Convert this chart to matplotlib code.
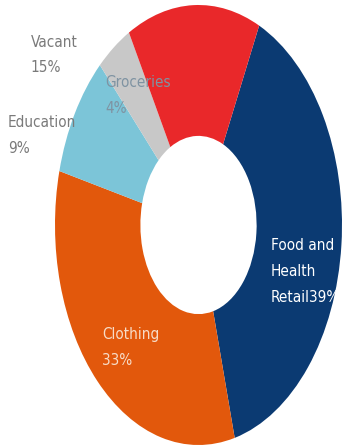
import matplotlib
matplotlib.use('Agg')
import matplotlib.pyplot as plt

# Donut slices, clockwise from the top-right
categories = ['Food and\nHealth\nRetail', 'Clothing', 'Education', 'Groceries', 'Vacant']
shares = [39, 33, 9, 4, 15]
colors = ['#0b3a72', '#e2580c', '#7cc5d8', '#c8c8c8', '#e9282a']

# Label text as shown next to each slice
labels = ['Food and\nHealth\nRetail39%', 'Clothing\n33%', 'Education\n9%', 'Groceries\n4%', 'Vacant\n15%']
label_colors = ['white', '#f7dcc8', '#7a7a7a', '#7f93a2', '#7a7a7a']
label_xy = [(0.505, -0.06), (-0.67, -0.465), (-1.33, 0.50), (-0.65, 0.68), (-1.17, 0.865)]

fig = plt.figure(figsize=(3.44, 4.48), dpi=100)
ax = fig.add_axes([55 / 344, 3 / 448, 287 / 344, 440 / 448])

ax.pie(shares, colors=colors, startangle=65, counterclock=False,
       radius=1.0, wedgeprops=dict(width=0.595, linewidth=0))
ax.set_aspect('auto')
ax.set_xlim(-1, 1)
ax.set_ylim(-1, 1)
ax.axis('off')

for txt, col, (x, y) in zip(labels, label_colors, label_xy):
    ax.text(x, y, txt, color=col, fontsize=11, ha='left', va='top',
            linespacing=1.9, family='DejaVu Sans', fontstretch='condensed')

fig.savefig('out.png', dpi=100)
